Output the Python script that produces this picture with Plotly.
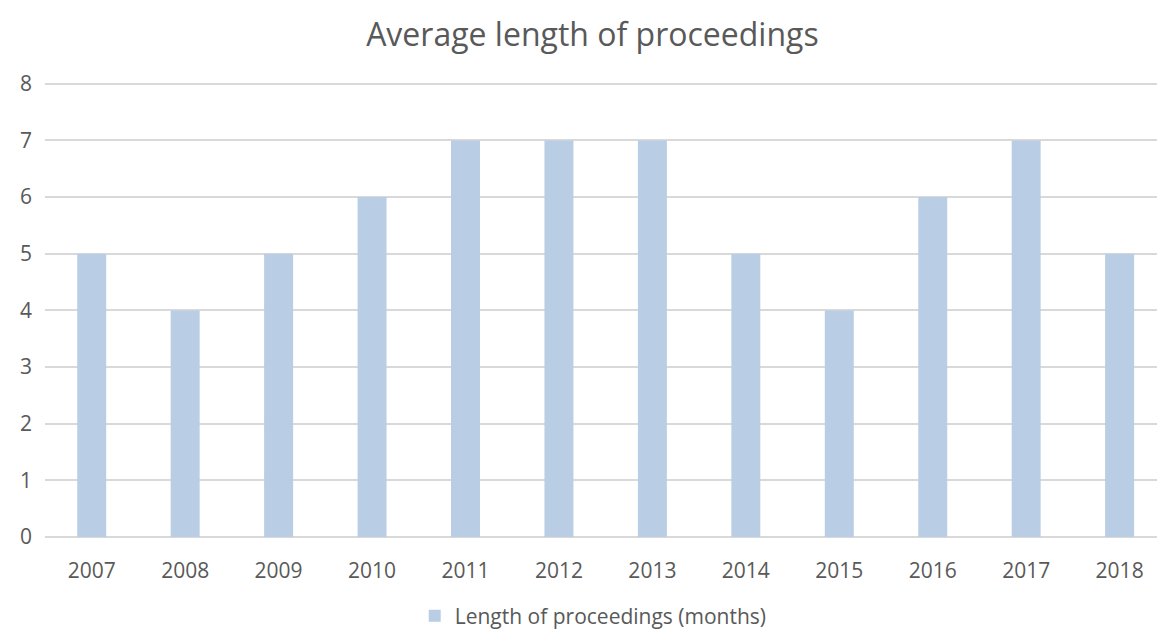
import plotly.graph_objects as go

years = ["2007", "2008", "2009", "2010", "2011", "2012", "2013", "2014", "2015", "2016", "2017", "2018"]
months = [5, 4, 5, 6, 7, 7, 7, 5, 4, 6, 7, 5]
series_name = "Length of proceedings (months)"
title_text = "Average length of proceedings"
y_ticks = [0, 1, 2, 3, 4, 5, 6, 7, 8]

TEXT = "#595959"
FONT = "Open Sans"

fig = go.Figure()
fig.add_trace(go.Bar(
    x=years, y=months, name=series_name,
    marker=dict(color="#B9CDE5", line=dict(width=0)),
    width=0.31,
))

fig.update_layout(
    width=1157, height=632,
    margin=dict(l=45, r=0, t=81, b=95, autoexpand=False),
    paper_bgcolor="white", plot_bgcolor="white",
    font=dict(family=FONT, color=TEXT, size=21),
    title=dict(text=title_text, x=0.512, xanchor="center", y=0.945, yanchor="middle",
               font=dict(family=FONT, size=32, color=TEXT)),
    showlegend=True,
    legend=dict(orientation="h", x=0.493, xanchor="center", yref="container", y=0.025, yanchor="middle",
                font=dict(family=FONT, size=21, color=TEXT), itemwidth=30),
    bargap=0.69,
)
fig.update_xaxes(type="category", range=[-0.5, 11.40], showgrid=False, zeroline=False, automargin=False,
                 showline=False, ticks="", tickfont=dict(size=21, color=TEXT), ticklabelstandoff=19)
fig.update_yaxes(range=[0, 8.05], tickvals=y_ticks, showgrid=True, gridcolor="#D9D9D9", gridwidth=1.5,
                 zeroline=True, zerolinecolor="#D9D9D9", zerolinewidth=1.5, showline=False, automargin=False,
                 ticks="", tickfont=dict(size=21, color=TEXT), ticklabelstandoff=12)

fig.write_html("out.html")
